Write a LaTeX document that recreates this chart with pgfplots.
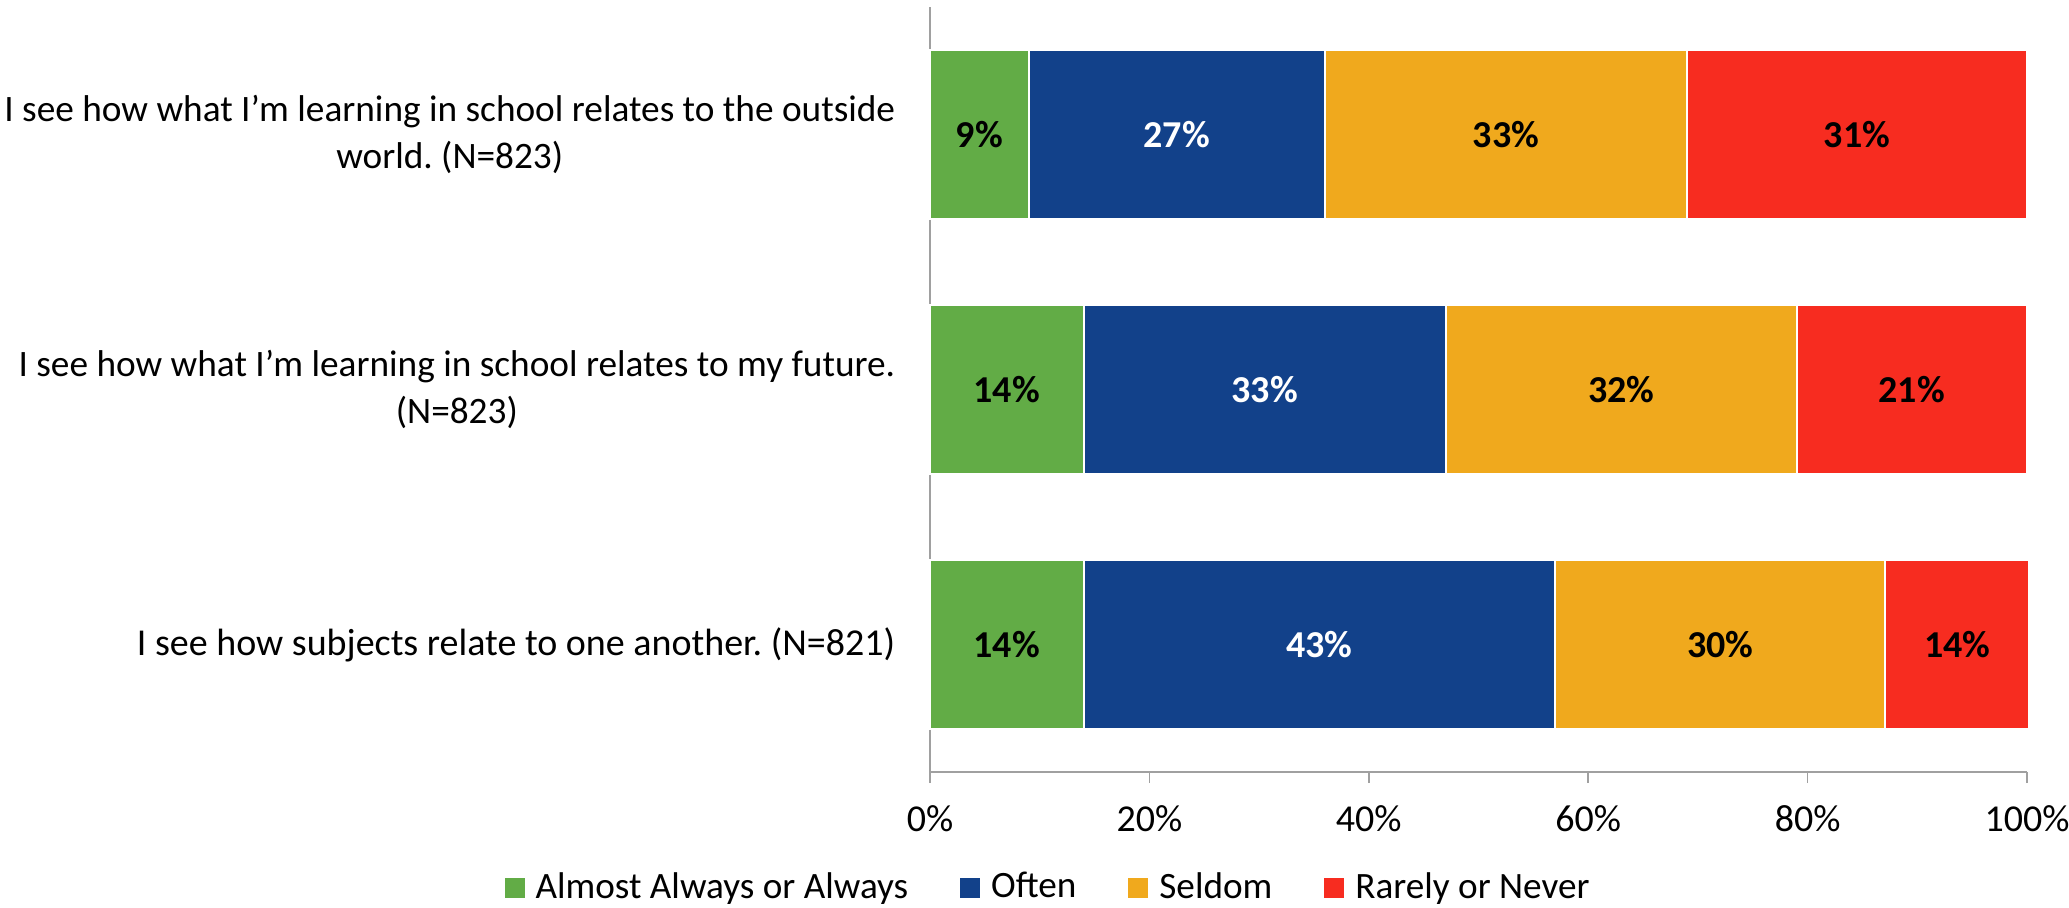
\documentclass[border=0pt]{standalone}
\usepackage{fontspec}
\setmainfont{Carlito}
\usepackage{pgfplots}
\pgfplotsset{compat=1.18}
\definecolor{cgreen}{HTML}{62AC46}
\definecolor{cblue}{HTML}{12418A}
\definecolor{cyellow}{HTML}{F0A91D}
\definecolor{cred}{HTML}{F72C20}
\definecolor{axisgray}{HTML}{A0A0A0}
\newcommand\lab{\fontsize{18.65pt}{23.6pt}\selectfont}
\begin{document}
\frenchspacing
\fontsize{19pt}{23.6pt}\selectfont
\begin{tikzpicture}
\begin{axis}[
  at={(465pt,67.5pt)}, anchor=south west,
  width=548.5pt, height=382.5pt, scale only axis,
  bar width=0.66,
  xmin=0, xmax=100, ymin=-0.5, ymax=2.5,
  clip=false,
  axis lines=left,
  axis line style={draw=axisgray, line width=0.75pt, -},
  tick style={draw=axisgray, line width=0.75pt},
  tick align=outside,
  major tick length=5.5pt,
  minor tick length=5.5pt,
  xtick={0,20,...,100},
  xticklabel={\pgfmathprintnumber{\tick}\%},
  /pgf/number format/assume math mode=true,
  ytick={0,1,2},
  ytick style={draw=none},
  minor ytick={-0.5,0.5,1.5,2.5},
  yticklabels={I see how subjects relate to one another. (N=821),
    {\lab I see how what I’m learning in school relates to my future.\\\lab(N=823)},
    {\lab I see how what I’m learning in school relates to the outside\\\lab world. (N=823)}},
  yticklabel style={align=center, anchor=east, inner sep=0pt, xshift=-11.7pt},
  xticklabel style={anchor=base, inner sep=0pt, yshift=-24pt},
  legend columns=4,
  legend style={at={(0.1076,-0.1516)}, anchor=center, draw=none, fill=none,
    font=\fontsize{18.6pt}{22pt}\selectfont,
    /tikz/every odd column/.append style={column sep=4.5pt},
    /tikz/every even column/.append style={column sep=25pt},
    nodes={inner sep=1pt}},
  legend cell align=left,
  legend image code/.code={\fill[#1, draw=none] (0pt,-5pt) rectangle (10pt,5pt);},
]
% legend entries
\addlegendimage{fill=cgreen}\addlegendentry{Almost Always or Always}
\addlegendimage{fill=cblue}\addlegendentry{Often}
\addlegendimage{fill=cyellow}\addlegendentry{Seldom}
\addlegendimage{fill=cred}\addlegendentry{Rarely or Never}
% bars: cumulative right ends of each segment, drawn back to front
\addplot[xbar, fill=cred, draw=white, line width=1pt, forget plot] coordinates {(100.2,0) (100,1) (100,2)};
\addplot[xbar, fill=cyellow, draw=white, line width=1pt, forget plot] coordinates {(87.1,0) (79,1) (69,2)};
\addplot[xbar, fill=cblue, draw=white, line width=1pt, forget plot] coordinates {(57,0) (47,1) (36,2)};
\addplot[xbar, fill=cgreen, draw=white, line width=1pt, forget plot] coordinates {(14,0) (14,1) (9,2)};
% segment labels at segment midpoints
\addplot[only marks, mark=none, forget plot, nodes near coords, point meta=explicit symbolic,
  every node near coord/.append style={anchor=center, font=\bfseries, text=black}]
  coordinates {(7,0) [14\%] (7,1) [14\%] (4.5,2) [9\%]
               (72.05,0) [30\%] (63,1) [32\%] (52.5,2) [33\%]
               (93.65,0) [14\%] (89.5,1) [21\%] (84.5,2) [31\%]};
\addplot[only marks, mark=none, forget plot, nodes near coords, point meta=explicit symbolic,
  every node near coord/.append style={anchor=center, font=\bfseries, text=white}]
  coordinates {(35.5,0) [43\%] (30.5,1) [33\%] (22.5,2) [27\%]};
\end{axis}
\pgfresetboundingbox
\path[use as bounding box] (0,0) rectangle (1034.5pt,453.5pt);
\end{tikzpicture}
\end{document}
